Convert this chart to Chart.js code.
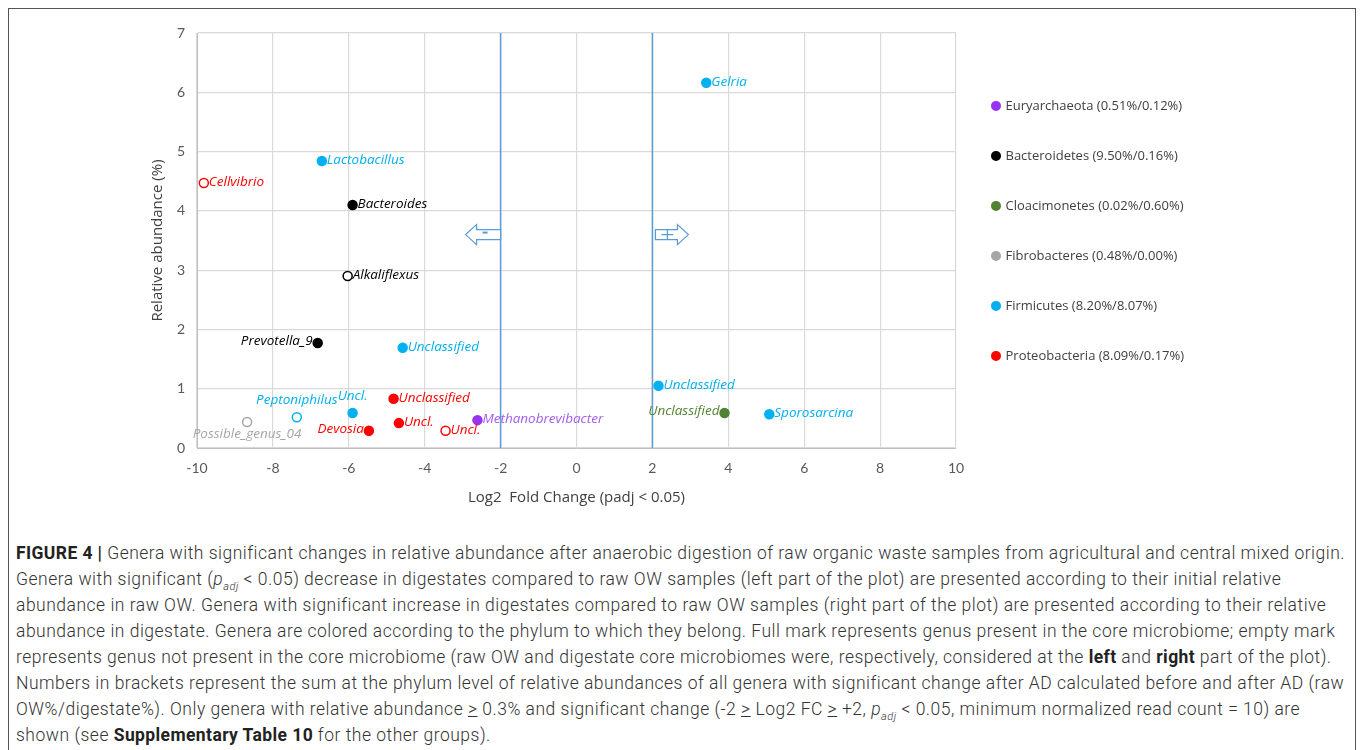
<!DOCTYPE html>
<html>
<head>
<meta charset="utf-8">
<script src="https://cdn.jsdelivr.net/npm/chart.js@4.4.0/dist/chart.umd.min.js"></script>
<style>
  body { margin: 0; background: #fff; width: 1360px; height: 750px; overflow: hidden; position: relative; }
  #frame { position: absolute; left: 8px; top: 8px; width: 1348px; height: 760px; border: 1.5px solid #555; box-sizing: border-box; }
  #wrap { position: absolute; left: 10px; top: 10px; width: 1340px; height: 512px; }
  #caption { position: absolute; left: 16px; top: 540px; width: 1338px; font-family: Roboto, "Liberation Sans", sans-serif; font-weight: 300; font-size: 17.5px; letter-spacing: 0.5px; line-height: 26px; color: #333; }
  #caption div { white-space: nowrap; }
  #caption b { font-weight: 700; color: #222; letter-spacing: 0.4px; }
  sub { font-size: 11px; line-height: 0; }
</style>
</head>
<body>
<div id="frame"></div>
<div id="wrap"><canvas id="chart"></canvas></div>
<div id="caption">
  <div><b>FIGURE 4 |</b> Genera with significant changes in relative abundance after anaerobic digestion of raw organic waste samples from agricultural and central mixed origin.</div>
  <div>Genera with significant (<i>p</i><sub><i>adj</i></sub> &lt; 0.05) decrease in digestates compared to raw OW samples (left part of the plot) are presented according to their initial relative</div>
  <div>abundance in raw OW. Genera with significant increase in digestates compared to raw OW samples (right part of the plot) are presented according to their relative</div>
  <div>abundance in digestate. Genera are colored according to the phylum to which they belong. Full mark represents genus present in the core microbiome; empty mark</div>
  <div>represents genus not present in the core microbiome (raw OW and digestate core microbiomes were, respectively, considered at the <b>left</b> and <b>right</b> part of the plot).</div>
  <div>Numbers in brackets represent the sum at the phylum level of relative abundances of all genera with significant change after AD calculated before and after AD (raw</div>
  <div>OW%/digestate%). Only genera with relative abundance <u>&gt;</u> 0.3% and significant change (-2 <u>&gt;</u> Log2 FC <u>&gt;</u> +2, <i>p</i><sub><i>adj</i></sub> &lt; 0.05, minimum normalized read count = 10) are</div>
  <div>shown (see <b>Supplementary Table 10</b> for the other groups).</div>
</div>
<script>
// phyla (legend)
const phyla = ['Euryarchaeota (0.51%/0.12%)', 'Bacteroidetes (9.50%/0.16%)', 'Cloacimonetes (0.02%/0.60%)',
               'Fibrobacteres (0.48%/0.00%)', 'Firmicutes (8.20%/8.07%)', 'Proteobacteria (8.09%/0.17%)'];
const phylumColors = ['#9933ee', '#000000', '#548235', '#a6a6a6', '#00b0f0', '#ff0000'];

// genera
const genera    = ['Methanobrevibacter', 'Bacteroides', 'Alkaliflexus', 'Prevotella_9', 'Unclassified', 'Possible_genus_04',
                   'Gelria', 'Lactobacillus', 'Unclassified', 'Unclassified', 'Peptoniphilus', 'Uncl.', 'Sporosarcina',
                   'Cellvibrio', 'Unclassified', 'Devosia', 'Uncl.', 'Uncl.'];
const phylumIdx = [0, 1, 1, 1, 2, 3, 4, 4, 4, 4, 4, 4, 4, 5, 5, 5, 5, 5];
const log2FC    = [-2.61, -5.9, -6.03, -6.82, 3.9, -8.68, 3.42, -6.71, -4.58, 2.16, -7.37, -5.9, 5.08, -9.82, -4.82, -5.47, -4.68, -3.45];
const abundance = [0.47, 4.1, 2.9, 1.77, 0.59, 0.44, 6.16, 4.84, 1.69, 1.05, 0.52, 0.59, 0.57, 4.47, 0.83, 0.29, 0.42, 0.29];
const inCore    = [true, true, false, true, true, false, true, true, true, true, false, true, true, false, true, true, true, false];

// thresholds
const thresholds = [-2, 2];

// where each label sits relative to its mark
const labelSide = ['right', 'right', 'right', 'left', 'left', 'below', 'right', 'right', 'right', 'right', 'above', 'above',
                   'right', 'right', 'right', 'left', 'right', 'right'];

const datasets = phyla.map(function(name, p) {
    const idx = [];
    phylumIdx.forEach(function(v, i) { if (v === p) idx.push(i); });
    return {
        label: name,
        data: idx.map(function(i) { return { x: log2FC[i], y: abundance[i], name: genera[i], side: labelSide[i] }; }),
        borderColor: phylumColors[p],
        backgroundColor: phylumColors[p],
        pointBackgroundColor: idx.map(function(i) { return inCore[i] ? phylumColors[p] : '#ffffff'; }),
        pointBorderColor: phylumColors[p],
        pointBorderWidth: 1.5,
        pointRadius: 4.5,
        pointHoverRadius: 4.5,
        showLine: false
    };
});

thresholds.forEach(function(t) {
    datasets.push({
        label: 'threshold',
        data: [{ x: t, y: 0 }, { x: t, y: 7 }],
        showLine: true,
        borderColor: '#5b9bd5',
        borderWidth: 1.5,
        pointRadius: 0,
        isThreshold: true
    });
});

const labelFont = '"Open Sans", Lato, sans-serif';

// labels next to each genus mark
const genusLabels = {
    id: 'genusLabels',
    afterDatasetsDraw(chart) {
        const ctx = chart.ctx;
        ctx.save();
        ctx.font = 'italic 13.5px ' + labelFont;
        ctx.textBaseline = 'middle';
        chart.data.datasets.forEach(function(ds, di) {
            if (ds.isThreshold) return;
            const meta = chart.getDatasetMeta(di);
            ctx.fillStyle = ds.borderColor === '#9933ee' ? '#a35cf0' : ds.borderColor;
            meta.data.forEach(function(pt, j) {
                const d = ds.data[j];
                let x = pt.x, y = pt.y;
                if (d.side === 'right') { ctx.textAlign = 'left'; x += 5; y -= 1; }
                else if (d.side === 'left') { ctx.textAlign = 'right'; x -= 5; y -= 2; }
                else if (d.side === 'above') { ctx.textAlign = 'center'; y -= 17; }
                else { ctx.textAlign = 'center'; y += 12; }
                ctx.fillText(d.name, x, y);
            });
        });
        ctx.restore();
    }
};

// direction arrows beside the threshold lines
const arrows = {
    id: 'arrows',
    afterDatasetsDraw(chart) {
        const ctx = chart.ctx;
        const xs = chart.scales.x, ys = chart.scales.y;
        const cy = ys.getPixelForValue(3.6);
        const lx = xs.getPixelForValue(-2), rx = xs.getPixelForValue(2);
        ctx.save();
        ctx.strokeStyle = '#5b9bd5';
        ctx.fillStyle = '#ffffff';
        ctx.lineWidth = 1.2;
        // left arrow
        ctx.beginPath();
        ctx.moveTo(lx, cy - 5); ctx.lineTo(lx - 24, cy - 5); ctx.lineTo(lx - 24, cy - 10);
        ctx.lineTo(lx - 35, cy); ctx.lineTo(lx - 24, cy + 10); ctx.lineTo(lx - 24, cy + 5); ctx.lineTo(lx, cy + 5);
        ctx.closePath(); ctx.fill(); ctx.stroke();
        ctx.lineWidth = 2;
        ctx.beginPath(); ctx.moveTo(lx - 18, cy - 2); ctx.lineTo(lx - 13, cy - 2); ctx.stroke();
        ctx.lineWidth = 1.2;
        // right arrow
        ctx.beginPath();
        ctx.moveTo(rx + 3, cy - 5); ctx.lineTo(rx + 25, cy - 5); ctx.lineTo(rx + 25, cy - 10);
        ctx.lineTo(rx + 36, cy); ctx.lineTo(rx + 25, cy + 10); ctx.lineTo(rx + 25, cy + 5); ctx.lineTo(rx + 3, cy + 5);
        ctx.closePath(); ctx.fill(); ctx.stroke();
        ctx.beginPath(); ctx.moveTo(rx + 9, cy); ctx.lineTo(rx + 21, cy);
        ctx.moveTo(rx + 15, cy - 5); ctx.lineTo(rx + 15, cy + 5); ctx.stroke();
        ctx.restore();
    }
};

const tickFont = { family: 'Lato, "Open Sans", sans-serif', size: 14 };

// legend box width follows its widest entry; keep the plot's right edge at 947px of the canvas
const legendPad = 37, legendBox = 6, legendFontSize = 13;
const measure = document.createElement('canvas').getContext('2d');
measure.font = legendFontSize + 'px ' + labelFont;
const widest = Math.max.apply(null, phyla.map(function(t) { return measure.measureText(t).width; }));
const legendWidth = legendPad + legendBox + legendFontSize / 2 + widest + 9;
const rightPad = Math.max(0, 1340 - 947 - legendWidth);

new Chart(document.getElementById('chart'), {
    type: 'scatter',
    data: { datasets: datasets },
    options: {
        responsive: true,
        maintainAspectRatio: false,
        animation: false,
        layout: { padding: { left: 130, top: 23, right: rightPad, bottom: 0 } },
        scales: {
            x: {
                min: -10, max: 10,
                ticks: { stepSize: 2, color: '#595959', font: tickFont, padding: 12 },
                grid: { color: '#d9d9d9', lineWidth: 1.2, drawTicks: false },
                border: { color: '#bfbfbf' },
                title: { display: true, text: 'Log2  Fold Change (padj < 0.05)', color: '#404040',
                         font: { family: labelFont, size: 15 }, padding: { top: 4, bottom: 15 } },
                afterFit: function(s) { s.height = 74; }
            },
            y: {
                min: 0, max: 7,
                ticks: { stepSize: 1, color: '#595959', font: tickFont, padding: 12 },
                grid: { color: '#d9d9d9', lineWidth: 1.2, drawTicks: false },
                border: { color: '#bfbfbf' },
                title: { display: true, text: 'Relative abundance (%)', color: '#404040',
                         font: { family: labelFont, size: 15 }, padding: { top: 9, bottom: 0 } },
                afterFit: function(s) { s.width = 57; }
            }
        },
        plugins: {
            legend: {
                position: 'right',
                align: 'start',
                title: { display: true, text: ' ', font: { size: 12 }, padding: { top: 7, bottom: 8 } },
                labels: {
                    usePointStyle: true,
                    pointStyle: 'circle',
                    boxWidth: legendBox,
                    boxHeight: legendBox,
                    padding: legendPad,
                    color: '#404040',
                    font: { family: labelFont, size: legendFontSize },
                    filter: function(item, data) { return !data.datasets[item.datasetIndex].isThreshold; },
                    generateLabels: function(chart) {
                        const items = Chart.defaults.plugins.legend.labels.generateLabels(chart);
                        items.forEach(function(it) {
                            const ds = chart.data.datasets[it.datasetIndex];
                            it.fillStyle = ds.borderColor;
                            it.strokeStyle = ds.borderColor;
                        });
                        return items;
                    }
                }
            },
            tooltip: { enabled: false }
        }
    },
    plugins: [genusLabels, arrows]
});
</script>
</body>
</html>
